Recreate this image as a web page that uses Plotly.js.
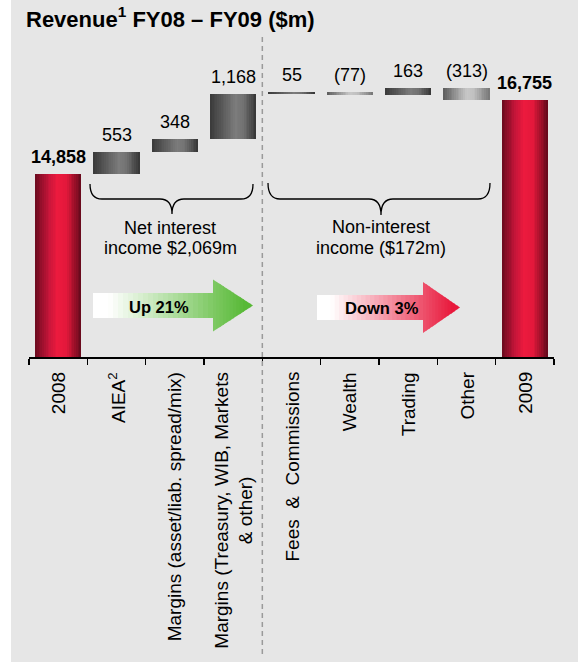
<!DOCTYPE html>
<html><head><meta charset="utf-8">
<script src="https://cdn.plot.ly/plotly-3.0.1.min.js"></script>
<style>html,body{margin:0;padding:0;background:#fff}</style>
</head><body><div id="chart" style="width:578px;height:662px"></div>
<script>
// ---- data ----
const categories = ['2008', 'AIEA<sup>2</sup>', 'Margins (asset/liab. spread/mix)',
  'Margins (Treasury, WIB, Markets<br>& other)', 'Fees\u00a0 &\u00a0 Commissions',
  'Wealth', 'Trading', 'Other', '2009'];
const values = [14858, 553, 348, 1168, 55, -77, 163, -313, 16755];
const valueLabels = ['14,858', '553', '348', '1,168', '55', '(77)', '163', '(313)', '16,755'];
const measures = ['total', 'relative', 'relative', 'relative', 'relative', 'relative', 'relative', 'relative', 'total'];
const groupTexts = [['Net interest', 'income $2,069m'], ['Non-interest', 'income ($172m)']];
const arrowTexts = ['Up 21%', 'Down 3%'];

// ---- geometry helpers ----
const W = 578, H = 662;
const M = {l: 29, r: 24, t: 50, b: 305};
const PW = W - M.l - M.r, PH = H - M.t - M.b;
const px = x => (x - M.l) / PW;
const py = y => (H - M.b - y) / PH;
const FONT = 'Liberation Sans, Arial, sans-serif';
const idx = categories.map((c, i) => i);

// bases / heights
let run = 0;
const bases = [], heights = [], tops = [];
values.forEach((v, i) => {
  if (measures[i] === 'total') { bases.push(0); heights.push(v); run = v; }
  else { bases.push(run); heights.push(v); run += v; }
  tops.push(Math.max(bases[i], bases[i] + heights[i]));
});

// colour helpers
function hex2rgb(h) { return [1, 3, 5].map(k => parseInt(h.substr(k, 2), 16)); }
function mix(a, b, t) { const A = hex2rgb(a), B = hex2rgb(b); return 'rgb(' + A.map((v, i) => Math.round(v + (B[i] - v) * t)).join(',') + ')'; }
function grad(stops, t) {
  for (let i = 1; i < stops.length; i++) {
    if (t <= stops[i][0]) { const f = (t - stops[i - 1][0]) / (stops[i][0] - stops[i - 1][0]); return mix(stops[i - 1][1], stops[i][1], f); }
  }
  return stops[stops.length - 1][1];
}
const RED = [[0, '#6a0a1e'], [0.3, '#c8153a'], [0.48, '#ec1a3e'], [0.68, '#e3183b'], [1, '#62091b']];
const DARK = [[0, '#3a3a3a'], [0.55, '#7c7c7c'], [0.72, '#727272'], [1, '#353535']];
const LIGHT = [[0, '#5c5c5c'], [0.5, '#c8c8c8'], [0.66, '#c0c0c0'], [1, '#767676']];
const palFor = i => measures[i] === 'total' ? RED : (values[i] >= 0 ? DARK : LIGHT);

// ---- bars as overlaid strips (cylinder gradient) ----
const BW = 0.79, K = 26;
const traces = [];
for (let k = 0; k < K; k++) {
  const t = (k + 0.5) / K;
  traces.push({
    type: 'bar', x: categories, y: heights, base: bases,
    offset: -BW / 2 + k * BW / K,
    width: (k < K - 1 ? 1.6 : 1) * BW / K,
    marker: {color: categories.map((c, i) => grad(palFor(i), t)), line: {width: 0}},
    hoverinfo: 'skip', showlegend: false
  });
}

// ---- annotations ----
const annotations = idx.map(i => ({
  x: i, y: tops[i], xref: 'x', yref: 'y', yanchor: 'bottom', yshift: 5,
  text: valueLabels[i], showarrow: false,
  font: {family: FONT, size: 18, color: '#000', weight: measures[i] === 'total' ? 'bold' : 'normal'}
}));
// category labels (rotated, centred multi-line)
idx.forEach(i => annotations.push({
  x: i, y: py(370), xref: 'x', yref: 'paper', yanchor: 'top', xanchor: 'center',
  text: categories[i], textangle: -90, align: 'center', showarrow: false,
  font: {family: FONT, size: 19, color: '#000'}
}));
const groupPos = [[170, 228, 248], [381, 227, 248]];
groupTexts.forEach((g, j) => g.forEach((s, n) => annotations.push({
  x: px(groupPos[j][0]), y: py(groupPos[j][1 + n]), xref: 'paper', yref: 'paper',
  text: s, showarrow: false, xanchor: 'center', yanchor: 'middle',
  font: {family: FONT, size: 18, color: '#000'}
})));
const arrowTextPos = [[159, 307], [382, 308]];
arrowTexts.forEach((s, j) => annotations.push({
  x: px(arrowTextPos[j][0]), y: py(arrowTextPos[j][1]), xref: 'paper', yref: 'paper',
  text: s, showarrow: false, xanchor: 'center', yanchor: 'middle',
  font: {family: FONT, size: 16.5, color: '#000', weight: 'bold'}
}));

// ---- shapes ----
const shapes = [];
shapes.push({type: 'rect', xref: 'paper', yref: 'paper', x0: px(0), x1: px(11), y0: py(H), y1: py(0),
  fillcolor: '#ffffff', line: {width: 0}, layer: 'below'});
shapes.push({type: 'line', xref: 'x', yref: 'paper', x0: 3.5, x1: 3.5, y0: py(37), y1: py(656),
  line: {color: '#9a9a9a', width: 1.5, dash: '5px,4px'}});
function brace(x0, x1, xm, yT, yM, yP) {
  const r = 12;
  const P = (x, y) => px(x).toFixed(5) + ',' + py(y).toFixed(5);
  return 'M' + P(x0, yT) + ' Q' + P(x0, yM) + ' ' + P(x0 + r, yM) + ' L' + P(xm - r, yM) +
    ' Q' + P(xm, yM) + ' ' + P(xm, yP) + ' Q' + P(xm, yM) + ' ' + P(xm + r, yM) +
    ' L' + P(x1 - r, yM) + ' Q' + P(x1, yM) + ' ' + P(x1, yT);
}
[[90, 253, 172, 184, 199, 214], [268, 490, 381, 183, 199, 215]].forEach(b =>
  shapes.push({type: 'path', xref: 'paper', yref: 'paper', path: brace(...b), line: {color: '#000', width: 1.3}}));
function arrow(x0, hx, tip, bT, bB, hT, hB, endCol) {
  const cy = (bT + bB) / 2, L = tip - x0;
  const col = x => { const t = (x - x0) / L; const f = Math.max(0, Math.min(1, (t - 0.1) / 0.85)); return mix('#ffffff', endCol, f); };
  const P = (x, y) => px(x).toFixed(5) + ',' + py(y).toFixed(5);
  const nb = 24, nh = 12;
  for (let k = 0; k < nb; k++) {
    const a = x0 + (hx - x0) * k / nb, b = x0 + (hx - x0) * (k + 1) / nb + 0.8;
    shapes.push({type: 'path', xref: 'paper', yref: 'paper', path: 'M' + P(a, bT) + ' L' + P(b, bT) + ' L' + P(b, bB) + ' L' + P(a, bB) + ' Z',
      fillcolor: col((a + b) / 2), line: {width: 0}});
  }
  const half = x => ((hB - hT) / 2) * (tip - x) / (tip - hx);
  for (let k = 0; k < nh; k++) {
    const a = hx + (tip - hx) * k / nh;
    const b = Math.min(tip, hx + (tip - hx) * (k + 1) / nh + 0.8);
    shapes.push({type: 'path', xref: 'paper', yref: 'paper',
      path: 'M' + P(a, cy - half(a)) + ' L' + P(b, cy - half(b)) + ' L' + P(b, cy + half(b)) + ' L' + P(a, cy + half(a)) + ' Z',
      fillcolor: col((a + b) / 2), line: {width: 0}});
  }
}
arrow(93, 213, 253, 293, 318, 280, 332, '#58b936');
arrow(317, 423, 460, 295, 320, 282, 333, '#e8193c');

const layout = {
  width: W, height: H,
  margin: M,
  paper_bgcolor: '#e6e6e6', plot_bgcolor: 'rgba(0,0,0,0)',
  barmode: 'overlay', bargap: 0,
  showlegend: false,
  title: {text: 'Revenue<sup>1</sup> FY08 – FY09 ($m)', x: 26 / W, xref: 'container', xanchor: 'left',
    y: 1 - 19 / H, yref: 'container', yanchor: 'middle',
    font: {family: FONT, size: 22, color: '#000', weight: 'bold'}},
  xaxis: {type: 'category', range: [-0.5, 8.5], showline: true, linecolor: '#000', linewidth: 1.5,
    ticks: 'outside', tickson: 'boundaries', ticklen: 6, tickwidth: 1.2, tickcolor: '#000',
    showticklabels: false, showgrid: false, zeroline: false,
    automargin: false, fixedrange: true},
  yaxis: {range: [10120, 18056], visible: false, showgrid: false, zeroline: false, fixedrange: true},
  annotations: annotations, shapes: shapes
};
Plotly.newPlot('chart', traces, layout, {displayModeBar: false, staticPlot: true});
</script></body></html>
